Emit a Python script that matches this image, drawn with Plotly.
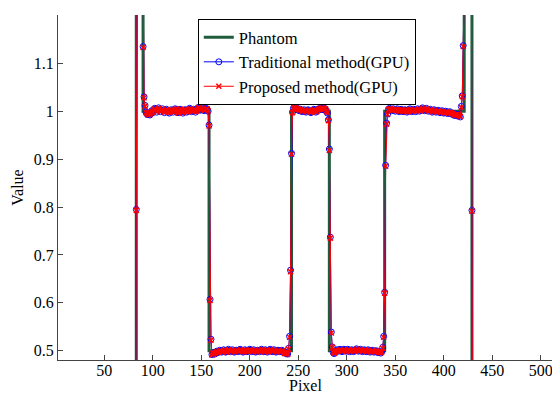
import plotly.graph_objects as go

# ---------------- data ----------------
# Phantom profile (step function, drawn with horizontal-then-vertical steps)
phantom_x = [1, 83, 90, 158, 243, 282, 339, 421, 429, 512]
phantom_y = [0.0, 2.0, 1.0, 0.5, 1.0, 0.5, 1.0, 2.0, 0.0, 0.0]

# pixel indices for the reconstructed profiles (78 .. 434)
pixels = list(range(78, 435))

traditional = [
    # 78-92
    0, 0, 0, 0, 0, 0.795, 1.62, 2.04, 1.97, 2.01, 1.95, 1.55, 1.135, 1.03, 1.012,
    # 93-157
    0.998, 0.994, 0.993, 0.996, 0.992, 0.995, 1.001, 0.997,
    1.004, 1.006, 1.002, 0.998, 1.003, 1.007, 1.004, 0.999, 1.002, 1.005,
    1.001, 0.997, 1.000, 1.004, 1.002, 0.998, 0.996, 1.000, 1.003, 1.001,
    0.998, 1.002, 1.005, 1.003, 0.999, 0.997, 1.001, 1.004, 1.002, 0.999,
    0.996, 0.999, 1.003, 1.002, 0.998, 1.000, 1.004, 1.006, 1.003, 0.999,
    1.001, 1.004, 1.002, 0.998, 1.001, 1.005, 1.008, 1.006, 1.002, 1.004,
    1.007, 1.005, 1.001, 1.003, 1.006, 1.004, 1.000,
    # 158-161
    0.971, 0.607, 0.524, 0.492,
    # 162-238
    0.494, 0.496, 0.493, 0.497, 0.499, 0.496, 0.498, 0.501, 0.499,
    0.497, 0.499, 0.502, 0.500, 0.497, 0.498, 0.501, 0.503, 0.500, 0.498,
    0.500, 0.502, 0.499, 0.497, 0.499, 0.501, 0.500, 0.498, 0.500, 0.503,
    0.501, 0.499, 0.497, 0.499, 0.502, 0.500, 0.498, 0.499, 0.501, 0.503,
    0.500, 0.498, 0.500, 0.502, 0.499, 0.497, 0.499, 0.501, 0.500, 0.498,
    0.500, 0.503, 0.501, 0.498, 0.499, 0.502, 0.500, 0.497, 0.499, 0.501,
    0.503, 0.500, 0.498, 0.500, 0.502, 0.499, 0.497, 0.499, 0.501, 0.500,
    0.498, 0.499, 0.501, 0.499, 0.496, 0.495, 0.497, 0.494,
    # 239-245
    0.493, 0.505, 0.530, 0.668, 0.912, 0.998, 1.006,
    # 246-280
    1.009, 1.007, 1.004, 1.006, 1.003, 1.001, 1.004, 1.002, 0.999, 1.001,
    1.003, 1.000, 0.998, 1.001, 1.003, 1.001, 0.999, 0.997, 1.000, 1.002,
    1.004, 1.001, 0.998, 1.000, 1.003, 1.005, 1.003, 1.006, 1.008, 1.005,
    1.003, 1.006, 1.004, 1.000, 0.996,
    # 281-286
    0.982, 0.921, 0.737, 0.539, 0.508, 0.496,
    # 287-336
    0.494, 0.497, 0.500, 0.502, 0.499, 0.501, 0.503, 0.500, 0.498, 0.501,
    0.503, 0.500, 0.499, 0.501, 0.503, 0.501, 0.498, 0.500, 0.502, 0.500,
    0.498, 0.500, 0.502, 0.504, 0.501, 0.499, 0.501, 0.503, 0.500, 0.498,
    0.500, 0.502, 0.500, 0.498, 0.499, 0.502, 0.500, 0.497, 0.499, 0.501,
    0.499, 0.497, 0.499, 0.500, 0.498, 0.496, 0.498, 0.497, 0.495, 0.498,
    # 337-343
    0.507, 0.530, 0.622, 0.887, 0.975, 0.994, 1.004,
    # 344-417
    1.006, 1.004, 1.001, 1.003, 1.005, 1.002, 1.000, 1.003, 1.005, 1.002,
    0.999, 1.001, 1.004, 1.002, 0.999, 1.001, 1.003, 1.001, 0.998, 1.000,
    1.003, 1.005, 1.002, 0.999, 1.001, 1.004, 1.002, 0.999, 1.002, 1.005,
    1.003, 1.000, 1.002, 1.005, 1.007, 1.004, 1.001, 1.003, 1.006, 1.003,
    1.000, 1.002, 1.004, 1.001, 0.998, 1.000, 1.003, 1.001, 0.998, 1.000,
    1.002, 0.999, 0.997, 0.999, 1.001, 0.998, 0.996, 0.998, 1.000, 0.997,
    0.995, 0.997, 0.999, 0.996, 0.994, 0.996, 0.993, 0.991, 0.994, 0.992,
    0.990, 0.993, 0.991, 0.988,
    # 418-434
    1.010, 1.032, 1.137, 1.58, 1.97, 2.03, 1.98, 2.02, 1.96, 2.05, 1.61,
    0.793, 0, 0, 0, 0, 0,
]

proposed = [
    # 78-92
    0, 0, 0, 0, 0, 0.793, 1.60, 2.05, 1.96, 2.02, 1.94, 1.56, 1.133, 1.028, 1.010,
    # 93-157
    0.997, 0.995, 0.992, 0.997, 0.993, 0.996, 1.000, 0.998,
    1.003, 1.005, 1.003, 0.999, 1.002, 1.006, 1.005, 1.000, 1.001, 1.004,
    1.002, 0.998, 0.999, 1.003, 1.003, 0.999, 0.997, 0.999, 1.002, 1.002,
    0.999, 1.001, 1.004, 1.004, 1.000, 0.996, 1.000, 1.005, 1.003, 0.998,
    0.997, 1.000, 1.002, 1.003, 0.999, 0.999, 1.003, 1.005, 1.004, 1.000,
    1.000, 1.003, 1.003, 0.999, 1.000, 1.004, 1.007, 1.007, 1.003, 1.003,
    1.006, 1.006, 1.002, 1.002, 1.005, 1.005, 1.001,
    # 158-161
    0.969, 0.605, 0.522, 0.491,
    # 162-238
    0.495, 0.495, 0.494, 0.496, 0.498, 0.497, 0.497, 0.500, 0.500,
    0.498, 0.498, 0.501, 0.501, 0.498, 0.497, 0.500, 0.502, 0.501, 0.499,
    0.499, 0.501, 0.500, 0.498, 0.498, 0.500, 0.501, 0.499, 0.499, 0.502,
    0.502, 0.500, 0.498, 0.498, 0.501, 0.501, 0.499, 0.498, 0.500, 0.502,
    0.501, 0.499, 0.499, 0.501, 0.500, 0.498, 0.498, 0.500, 0.501, 0.499,
    0.499, 0.502, 0.502, 0.499, 0.498, 0.501, 0.501, 0.498, 0.498, 0.500,
    0.502, 0.501, 0.499, 0.499, 0.501, 0.500, 0.498, 0.498, 0.500, 0.501,
    0.499, 0.498, 0.500, 0.500, 0.497, 0.494, 0.496, 0.495,
    # 239-245
    0.492, 0.503, 0.528, 0.665, 0.910, 0.997, 1.005,
    # 246-280
    1.008, 1.008, 1.005, 1.005, 1.004, 1.002, 1.003, 1.003, 1.000, 1.000,
    1.002, 1.001, 0.999, 1.000, 1.002, 1.002, 1.000, 0.998, 0.999, 1.001,
    1.003, 1.002, 0.999, 0.999, 1.002, 1.004, 1.004, 1.005, 1.007, 1.006,
    1.004, 1.005, 1.005, 1.001, 0.997,
    # 281-286
    0.980, 0.918, 0.735, 0.537, 0.507, 0.497,
    # 287-336
    0.495, 0.496, 0.499, 0.501, 0.500, 0.500, 0.502, 0.501, 0.499, 0.500,
    0.502, 0.501, 0.498, 0.500, 0.502, 0.502, 0.499, 0.499, 0.501, 0.501,
    0.499, 0.499, 0.501, 0.503, 0.502, 0.500, 0.500, 0.502, 0.501, 0.499,
    0.499, 0.501, 0.501, 0.499, 0.498, 0.501, 0.501, 0.498, 0.498, 0.500,
    0.500, 0.498, 0.498, 0.501, 0.499, 0.497, 0.497, 0.498, 0.496, 0.497,
    # 337-343
    0.505, 0.528, 0.620, 0.885, 0.973, 0.993, 1.003,
    # 344-417
    1.005, 1.005, 1.002, 1.002, 1.004, 1.003, 1.001, 1.002, 1.004, 1.003,
    1.000, 1.000, 1.003, 1.003, 1.000, 1.000, 1.002, 1.002, 0.999, 0.999,
    1.002, 1.004, 1.003, 1.000, 1.000, 1.003, 1.003, 1.000, 1.001, 1.004,
    1.004, 1.001, 1.001, 1.004, 1.006, 1.005, 1.002, 1.002, 1.005, 1.004,
    1.001, 1.001, 1.003, 1.002, 0.999, 0.999, 1.002, 1.002, 0.999, 0.999,
    1.001, 1.000, 0.998, 0.998, 1.000, 0.999, 0.997, 0.997, 0.999, 0.998,
    0.996, 0.996, 0.998, 0.997, 0.995, 0.995, 0.994, 0.992, 0.993, 0.993,
    0.991, 0.992, 0.990, 0.989,
    # 418-434
    1.008, 1.030, 1.135, 1.57, 1.98, 2.02, 1.99, 2.01, 1.97, 2.04, 1.60,
    0.791, 0, 0, 0, 0, 0,
]

x_ticks = [50, 100, 150, 200, 250, 300, 350, 400, 450, 500]
y_ticks = [0.5, 0.6, 0.7, 0.8, 0.9, 1.0, 1.1]
y_tick_labels = ["0.5", "0.6", "0.7", "0.8", "0.9", "1", "1.1"]

# ---------------- figure ----------------
FONT = "Liberation Serif"
PLOT_H = 394 - 15 - 34

fig = go.Figure()
fig.add_trace(go.Scatter(
    x=phantom_x, y=phantom_y, mode="lines", name="Phantom",
    line=dict(color="#1F5C3C", width=3, shape="hv"),
))
fig.add_trace(go.Scatter(
    x=pixels, y=traditional, mode="lines+markers", name="Traditional method(GPU)",
    line=dict(color="#0000FF", width=1),
    marker=dict(symbol="circle-open", size=6, color="#0000FF", line=dict(width=1)),
))
fig.add_trace(go.Scatter(
    x=pixels, y=proposed, mode="lines+markers", name="Proposed method(GPU)",
    line=dict(color="#FF0000", width=1),
    marker=dict(symbol="x-thin-open", size=5, color="#FF0000",
                line=dict(width=1.5, color="#FF0000")),
))

fig.update_layout(
    width=552, height=394,
    margin=dict(l=58, r=0, t=15, b=34),
    paper_bgcolor="white", plot_bgcolor="white",
    font=dict(family=FONT, size=16, color="black"),
    showlegend=True,
    legend=dict(
        x=0.283, y=0.988, xanchor="left", yanchor="top",
        bgcolor="white", bordercolor="black", borderwidth=1,
        font=dict(family=FONT, size=16.5, color="black"),
        tracegroupgap=0, itemwidth=30,
    ),
    annotations=[dict(
        text="Pixel", xref="paper", yref="paper", x=0.5, y=-25.5 / PLOT_H,
        xanchor="center", yanchor="middle", showarrow=False,
        font=dict(family=FONT, size=16, color="black"),
    )],
)
fig.update_xaxes(
    range=[2.3, 511.5], tickmode="array", tickvals=x_ticks,
    ticks="inside", ticklen=5, tickcolor="#444", showline=True, linecolor="#444",
    linewidth=1, showgrid=False, zeroline=False, mirror=False,
    ticklabeloverflow="allow", ticklabelstandoff=-4,
    tickfont=dict(family=FONT, size=16),
)
fig.update_yaxes(
    range=[0.4806, 1.2008], tickmode="array", tickvals=y_ticks, ticktext=y_tick_labels,
    ticks="inside", ticklen=5, tickcolor="#444", showline=True, linecolor="#444",
    linewidth=1, showgrid=False, zeroline=False, mirror=False,
    title=dict(text="Value", standoff=6, font=dict(family=FONT, size=16)),
    tickfont=dict(family=FONT, size=16),
)

fig.write_html("out.html")
